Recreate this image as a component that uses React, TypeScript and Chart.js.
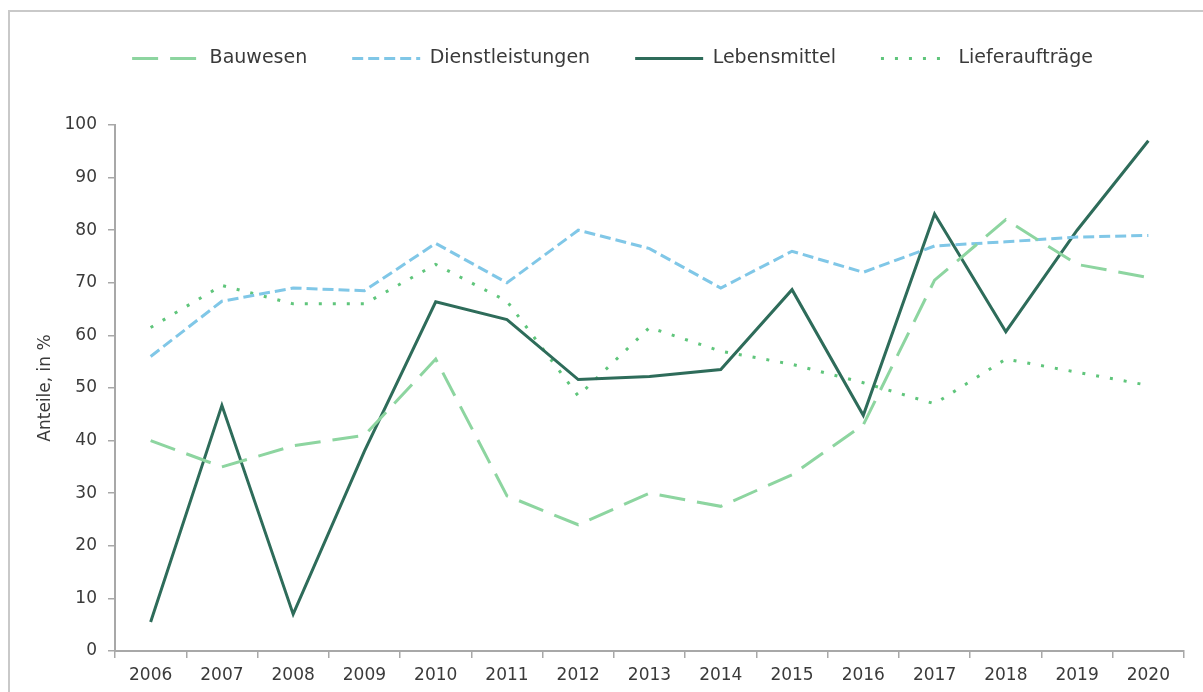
import React, { useEffect, useRef } from "react";
import { Chart, registerables } from "chart.js";

Chart.register(...registerables);

const years = ["2006","2007","2008","2009","2010","2011","2012","2013","2014","2015","2016","2017","2018","2019","2020"];
const bauwesen = [40, 35, 39, 41, 55.5, 29.5, 24, 30, 27.5, 33.5, 43, 70.5, 82, 73.5, 71];
const dienstleistungen = [56, 66.5, 69, 68.5, 77.5, 70, 80, 76.5, 69, 76, 72, 77, 77.8, 78.7, 79];
const lebensmittel = [5.5, 46.7, 7, 38, 66.4, 63, 51.6, 52.2, 53.5, 68.7, 44.8, 83.1, 60.7, 80, 97];
const lieferauftraege = [61.5, 69.5, 66, 66, 73.5, 66.5, 48.5, 61.5, 57, 54.5, 51, 47, 55.5, 53, 50.5];

const FONT = "'DejaVu Sans', sans-serif";
const TEXT = "#3a3a3a";
const AXIS = "#a8a8a8";
const BOX_W = 68;

const legendLines = {
  id: "legendLines",
  afterDraw(chart: any) {
    const legend = chart.legend;
    if (!legend || !legend.legendHitBoxes) return;
    const ctx = chart.ctx;
    legend.legendHitBoxes.forEach((hb: any, i: number) => {
      const ds = chart.data.datasets[i];
      const y = hb.top + hb.height / 2;
      ctx.save();
      ctx.strokeStyle = ds.borderColor;
      ctx.lineWidth = ds.borderWidth;
      ctx.setLineDash(ds.borderDash || []);
      ctx.beginPath();
      ctx.moveTo(hb.left, y);
      ctx.lineTo(hb.left + BOX_W, y);
      ctx.stroke();
      ctx.restore();
    });
  },
};

export default function App() {
  const ref = useRef<HTMLCanvasElement | null>(null);
  useEffect(() => {
    if (!ref.current) return;
    const chart = new Chart(ref.current, {
      type: "line",
      data: {
        labels: years,
        datasets: [
          { label: "Bauwesen", data: bauwesen, borderColor: "#8dd5a0", backgroundColor: "#8dd5a0", borderWidth: 3, borderDash: [26, 12], pointRadius: 0, tension: 0 },
          { label: "Dienstleistungen", data: dienstleistungen, borderColor: "#80c7e7", backgroundColor: "#80c7e7", borderWidth: 3, borderDash: [11, 5], pointRadius: 0, tension: 0 },
          { label: "Lebensmittel", data: lebensmittel, borderColor: "#2e6c5a", backgroundColor: "#2e6c5a", borderWidth: 3, pointRadius: 0, tension: 0 },
          { label: "Lieferaufträge", data: lieferauftraege, borderColor: "#5fc57b", backgroundColor: "#5fc57b", borderWidth: 3, borderDash: [3, 11], pointRadius: 0, tension: 0 },
        ],
      },
      options: {
        animation: false,
        responsive: false,
        maintainAspectRatio: false,
        layout: { padding: { left: 41, right: 19, top: 4, bottom: 0 } },
        plugins: {
          tooltip: { enabled: false },
          legend: {
            position: "top",
            labels: {
              boxWidth: BOX_W,
              boxHeight: 3,
              padding: 45,
              color: TEXT,
              font: { family: FONT, size: 19 },
              generateLabels: (c: any) =>
                Chart.defaults.plugins.legend.labels.generateLabels(c).map((it: any) => ({
                  ...it,
                  fillStyle: "rgba(0,0,0,0)",
                  strokeStyle: "rgba(0,0,0,0)",
                  lineWidth: 0,
                })),
            },
          },
          subtitle: {
            display: true,
            text: "",
            weight: 500,
            font: { size: 1, lineHeight: 1 },
            padding: { top: 0, bottom: 46 },
          } as any,
        },
        scales: {
          x: {
            type: "category",
            offset: true,
            grid: { display: true, offset: true, drawOnChartArea: false, drawTicks: true, tickLength: 7, color: AXIS, lineWidth: 1.5 },
            border: { display: true, color: AXIS, width: 2 },
            ticks: { color: TEXT, font: { family: FONT, size: 17 }, padding: 7, maxRotation: 0, autoSkip: false },
            afterFit: (s: any) => { s.height = 41; },
          },
          y: {
            min: 0,
            max: 100,
            grid: { display: true, drawOnChartArea: false, drawTicks: true, tickLength: 7, color: AXIS, lineWidth: 1.5 },
            border: { display: true, color: AXIS, width: 2 },
            ticks: { stepSize: 10, color: TEXT, font: { family: FONT, size: 17 }, padding: 11 },
            title: { display: true, text: "Anteile, in %", color: TEXT, font: { family: FONT, size: 17 }, padding: { top: -6, bottom: 0 } },
            afterFit: (s: any) => { s.width = 74; },
          },
        },
      },
      plugins: [legendLines],
    });
    return () => chart.destroy();
  }, []);

  return (
    <div style={{ position: "fixed", left: 0, top: 0, width: 1203, height: 692, overflow: "hidden", background: "#fff" }}>
      <div style={{ position: "absolute", left: 8, top: 10, width: 1400, height: 900, borderTop: "2px solid #c9c9c9", borderLeft: "2px solid #c9c9c9" }} />
      <canvas ref={ref} width={1203} height={692} style={{ position: "absolute", left: 0, top: 0, width: 1203, height: 692 }} />
    </div>
  );
}
